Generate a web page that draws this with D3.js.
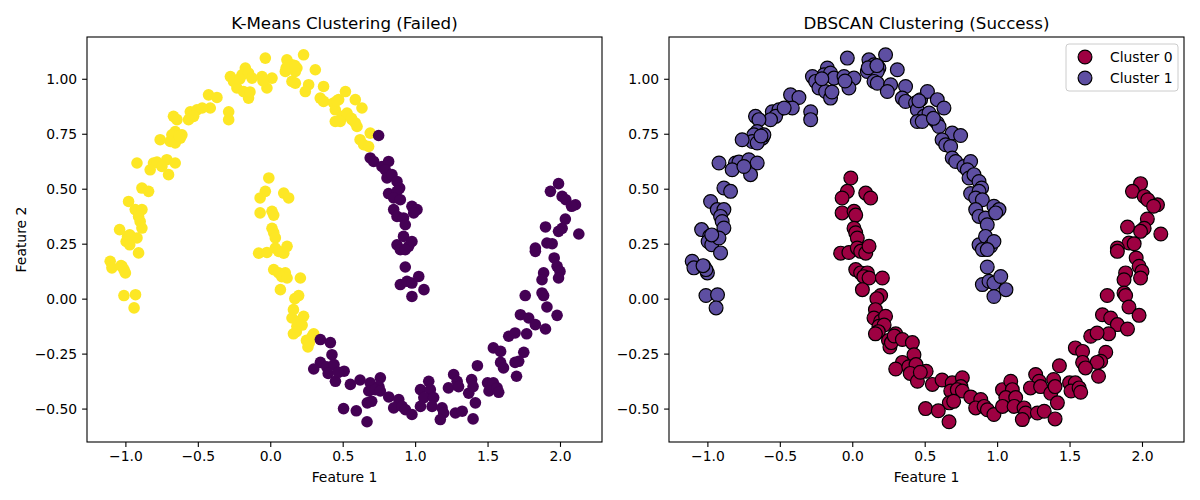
<!DOCTYPE html>
<html>
<head>
<meta charset="utf-8">
<script src="https://cdn.jsdelivr.net/npm/d3@7"></script>
<style>
  body { margin: 0; background: #fff; }
  svg text { font-family: "DejaVu Sans", sans-serif; fill: #000; }
</style>
</head>
<body>
<svg id="chart" width="1200" height="500"></svg>
<script>
// points, grouped by moon and by k-means colour
const upperYellow = [
  [-0.172,1.049],[-0.195,1.018],[-0.15,1.026],[-0.275,1.01],[-0.253,0.988],[-0.23,0.958],[-0.184,0.942],[-0.15,0.912],[-0.126,1.003],
  [-0.426,0.927],[-0.368,0.915],[-0.414,0.867],[-0.287,0.85],[-0.287,0.814],[-0.552,0.85],[-0.506,0.859],[-0.529,0.829],[-0.564,0.814],[-0.47,0.867],
  [-0.668,0.829],[-0.644,0.814],[-0.656,0.76],[-0.679,0.745],[-0.621,0.73],[-0.69,0.715],[-0.656,0.708],[-0.61,0.745],[-0.76,0.723],
  [-0.92,0.617],[-0.806,0.617],[-0.782,0.621],[-0.829,0.586],[-0.714,0.632],[-0.656,0.617],[-0.702,0.564],[-0.748,0.601],[-0.886,0.503],[-0.84,0.488],
  [-0.034,1.094],[0.115,1.086],[0.15,1.064],[0.184,1.049],[0.23,1.109],[0.104,1.033],[0.173,1.033],[-0.057,1.01],[0.012,1.003],[-0.023,0.958],
  [0.15,0.988],[0.173,0.98],[0.311,1.041],[0.265,0.973],[0.242,0.942],[0.368,0.965],[0.345,0.912],[0.368,0.897],[0.437,0.89],[0.472,0.905],[0.449,0.859],
  [0.519,0.942],[0.587,0.905],[0.633,0.867],[0.495,0.829],[0.53,0.844],[0.564,0.814],[0.587,0.799],[0.449,0.806],[0.483,0.806],[0.599,0.783],
  [0.69,0.753],[0.62,0.723],[0.645,0.70],[0.679,0.692],
  [-0.978,0.442],[-0.932,0.405],[-0.886,0.405],[-0.909,0.374],[-0.898,0.351],[-0.886,0.321],[-1.04,0.314],[-0.985,0.283],[-0.995,0.26],[-0.97,0.245],[-0.92,0.276],[-0.909,0.208],
  [-1.105,0.17],[-1.093,0.14],[-1.024,0.147],[-1.0,0.117],[-1.01,0.132],[-1.01,0.014],[-0.93,0.018],[-0.94,-0.042],
  [-0.14,0.94],[-0.05,0.99],[0.11,1.05],[0.46,0.90],[0.56,0.82],[-0.63,0.74],[-0.97,0.29],[-1.03,0.15],[-0.21,1.0],[0.17,1.06]
];
const upperPurple = [
  [0.748,0.742],[0.69,0.64],[0.714,0.624],[0.771,0.601],[0.817,0.624],[0.794,0.586],[0.806,0.549],[0.84,0.564],[0.875,0.533],[0.893,0.503],
  [0.817,0.478],[0.875,0.488],[0.852,0.458],[0.898,0.45],[0.852,0.405],[0.875,0.374],[0.92,0.367],[0.932,0.336],[0.978,0.42],[1.013,0.405],[0.99,0.39],
  [0.875,0.245],[0.92,0.283],[0.898,0.223],[0.955,0.238],[0.978,0.26],[0.932,0.223],[0.932,0.144],
  [0.898,0.064],[0.944,0.079],[0.978,0.071],[1.025,0.101],[1.061,0.041],[0.978,0.01]
];
const lowerYellow = [
  [-0.01,0.549],[-0.034,0.488],[-0.07,0.458],[0.093,0.48],[0.127,0.458],[-0.07,0.39],[0.012,0.397],[0.024,0.38],[0.012,0.32],[0.024,0.30],[0.035,0.276],
  [-0.08,0.207],[-0.023,0.21],[0.035,0.23],[0.058,0.215],[0.093,0.207],[0.116,0.238],[0.024,0.132],[0.058,0.117],[0.104,0.117],[0.08,0.10],[0.116,0.094],
  [0.208,0.094],[0.07,0.041],[0.196,0.014],[0.17,0.0],[0.16,-0.05],[0.15,-0.088],[0.196,-0.103],[0.23,-0.08],[0.184,-0.126],
  [0.22,-0.12],[0.18,-0.15],[0.16,-0.16],[0.30,-0.16],[0.25,-0.19],[0.26,-0.22],[0.27,-0.20],[0.29,-0.17]
];
const lowerPurple = [
  [0.346,-0.186],[0.415,-0.20],[0.426,-0.255],[0.346,-0.29],[0.30,-0.32],[0.39,-0.31],[0.44,-0.30],[0.40,-0.34],[0.45,-0.376],[0.51,-0.33],[0.47,-0.335],
  [0.553,-0.39],[0.62,-0.37],[0.69,-0.383],[0.76,-0.36],[0.75,-0.40],[0.68,-0.42],[0.725,-0.414],[0.76,-0.42],[0.67,-0.474],[0.70,-0.467],
  [0.506,-0.50],[0.594,-0.51],[0.668,-0.56],[0.818,-0.447],[0.887,-0.459],[0.852,-0.497],[0.91,-0.49],[0.933,-0.505],[0.978,-0.527],
  [1.037,-0.414],[1.094,-0.376],[1.105,-0.414],[1.06,-0.45],[1.037,-0.49],[1.128,-0.45],[1.117,-0.49],[1.186,-0.497],[1.197,-0.52],[1.174,-0.55],
  [1.266,-0.345],[1.29,-0.376],[1.23,-0.406],[1.30,-0.40],[1.278,-0.52],[1.325,-0.512],[1.37,-0.43],
  [1.99,0.523],[1.934,0.488],[2.015,0.465],[2.04,0.45],[2.107,0.427],[2.08,0.42],[2.037,0.362],[2.015,0.32],[1.99,0.306],[2.13,0.294],[1.9,0.326],
  [1.91,0.253],[1.946,0.25],[1.83,0.23],[1.83,0.215],[1.96,0.185],[1.98,0.147],[2.0,0.124],[1.99,0.094],[1.887,0.117],[1.876,0.086],
  [1.76,0.014],[1.876,0.026],[1.887,0.014],[1.91,-0.038],[1.98,-0.076],[1.727,-0.073],[1.784,-0.088],[1.83,-0.118],[1.9,-0.138],[1.77,-0.16],
  [1.646,-0.171],[1.69,-0.156],[1.54,-0.224],[1.59,-0.24],[1.75,-0.244],[1.715,-0.285],[1.69,-0.29],[1.59,-0.29],[1.61,-0.315],[1.70,-0.353],
  [1.43,-0.305],[1.39,-0.368],[1.40,-0.40],[1.50,-0.383],[1.54,-0.383],[1.51,-0.42],[1.566,-0.406],[1.577,-0.426],[1.416,-0.474],[1.40,-0.547]
];

const xTicks = [-1.0, -0.5, 0.0, 0.5, 1.0, 1.5, 2.0];
const yTicks = [-0.5, -0.25, 0.0, 0.25, 0.5, 0.75, 1.0];
const kmeansColors = ['#fde725', '#440154'];   // viridis ends
const dbscanColors = ['#9e0142', '#5e4fa2'];   // Spectral ends
const clusterNames = ['Cluster 0', 'Cluster 1'];

const svg = d3.select('#chart');
const plotTop = 37, plotBottom = 442;

function drawPanel(left, right, title, yLabel) {
  const x = d3.scaleLinear().domain([-1.265, 2.29]).range([left, right]);
  const y = d3.scaleLinear().domain([-0.652, 1.19]).range([plotBottom, plotTop]);
  const g = svg.append('g');

  const xAxis = g.append('g')
    .attr('transform', `translate(0,${plotBottom})`)
    .call(d3.axisBottom(x).tickValues(xTicks).tickFormat(d3.format('.1f')).tickSize(4.9).tickPadding(4.6));
  const yAxis = g.append('g')
    .attr('transform', `translate(${left},0)`)
    .call(d3.axisLeft(y).tickValues(yTicks).tickFormat(d3.format('.2f')).tickSize(4.9).tickPadding(4.9));
  [xAxis, yAxis].forEach(a => {
    a.select('.domain').remove();
    a.attr('font-size', 13.9).attr('font-family', '"DejaVu Sans", sans-serif');
    a.selectAll('line').attr('stroke', '#000').attr('stroke-width', 1.1);
  });

  g.append('text')
    .attr('x', (left + right) / 2).attr('y', 29)
    .attr('text-anchor', 'middle').attr('font-size', 16.7)
    .text(title);
  g.append('text')
    .attr('x', (left + right) / 2).attr('y', 482)
    .attr('text-anchor', 'middle').attr('font-size', 13.9)
    .text('Feature 1');
  if (yLabel) {
    g.append('text')
      .attr('transform', `translate(26,${(plotTop + plotBottom) / 2}) rotate(-90)`)
      .attr('text-anchor', 'middle').attr('font-size', 13.9)
      .text(yLabel);
  }
  return { g, x, y };
}

// left: k-means
const p1 = drawPanel(87, 602, 'K-Means Clustering (Failed)', 'Feature 2');
const kmeansGroups = [
  { pts: upperYellow, c: kmeansColors[0] },
  { pts: upperPurple, c: kmeansColors[1] },
  { pts: lowerYellow, c: kmeansColors[0] },
  { pts: lowerPurple, c: kmeansColors[1] }
];
kmeansGroups.forEach(grp => {
  p1.g.append('g').selectAll('circle')
    .data(grp.pts)
    .join('circle')
    .attr('cx', d => p1.x(d[0]))
    .attr('cy', d => p1.y(d[1]))
    .attr('r', 5.8)
    .attr('fill', grp.c);
});

// right: dbscan
const p2 = drawPanel(669, 1184, 'DBSCAN Clustering (Success)', null);
const dbscanGroups = [lowerYellow.concat(lowerPurple), upperYellow.concat(upperPurple)];
dbscanGroups.forEach((pts, i) => {
  p2.g.append('g').selectAll('circle')
    .data(pts)
    .join('circle')
    .attr('cx', d => p2.x(d[0]))
    .attr('cy', d => p2.y(d[1]))
    .attr('r', 6.9)
    .attr('fill', dbscanColors[i])
    .attr('stroke', '#000')
    .attr('stroke-width', 1.2);
});

// frames
[[87, 602], [669, 1184]].forEach(([l, r]) => {
  svg.append('rect')
    .attr('x', l).attr('y', plotTop).attr('width', r - l).attr('height', plotBottom - plotTop)
    .attr('fill', 'none').attr('stroke', '#000').attr('stroke-width', 1.1);
});

// legend
const legend = svg.append('g').attr('transform', 'translate(1066,44)');
legend.append('rect')
  .attr('width', 112).attr('height', 47).attr('rx', 3)
  .attr('fill', '#fff').attr('fill-opacity', 0.8)
  .attr('stroke', '#cccccc').attr('stroke-width', 1);
clusterNames.forEach((name, i) => {
  const row = legend.append('g').attr('transform', `translate(0,${13 + i * 21})`);
  row.append('circle')
    .attr('cx', 19).attr('cy', 0).attr('r', 6.9)
    .attr('fill', dbscanColors[i]).attr('stroke', '#000').attr('stroke-width', 1.2);
  row.append('text')
    .attr('x', 44).attr('y', 5)
    .attr('font-size', 13.9)
    .text(name);
});
</script>
</body>
</html>
